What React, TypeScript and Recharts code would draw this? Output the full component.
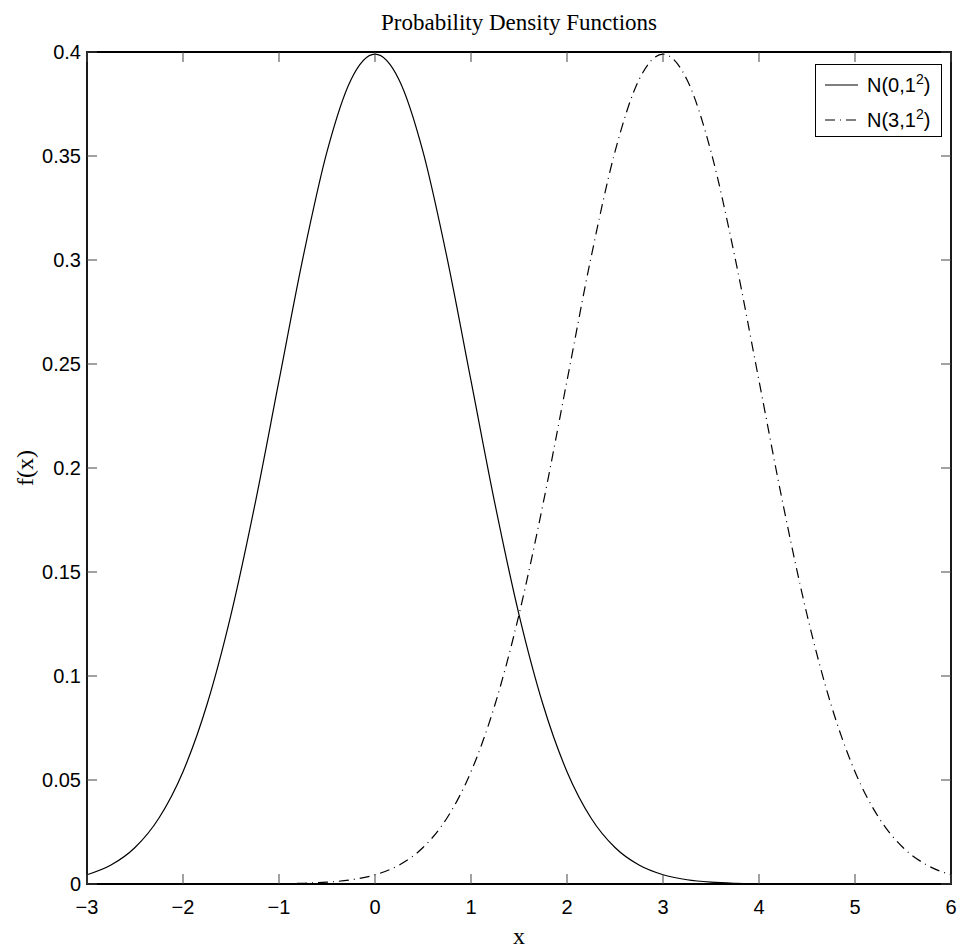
import React from 'react';
import { LineChart, Line, XAxis, YAxis, ReferenceArea } from 'recharts';

// x grid and density values
const xValues = [
  -3, -2.75, -2.5, -2.25, -2, -1.75, -1.5, -1.25, -1, -0.75, -0.5, -0.25,
  0, 0.25, 0.5, 0.75, 1, 1.25, 1.5, 1.75, 2, 2.25, 2.5, 2.75,
  3, 3.25, 3.5, 3.75, 4, 4.25, 4.5, 4.75, 5, 5.25, 5.5, 5.75, 6,
];

const normal0 = [
  0.00443, 0.00909, 0.01753, 0.03174, 0.05399, 0.08628, 0.12952, 0.18265, 0.24197, 0.30114, 0.35207, 0.38667,
  0.39894, 0.38667, 0.35207, 0.30114, 0.24197, 0.18265, 0.12952, 0.08628, 0.05399, 0.03174, 0.01753, 0.00909,
  0.00443, 0.00203, 0.00087, 0.00035, 0.00013, 0.00005, 0.00002, 0.00001, 0, 0, 0, 0, 0,
];

const normal3 = [
  0, 0, 0, 0, 0, 0.00001, 0.00002, 0.00005, 0.00013, 0.00035, 0.00087, 0.00203,
  0.00443, 0.00909, 0.01753, 0.03174, 0.05399, 0.08628, 0.12952, 0.18265, 0.24197, 0.30114, 0.35207, 0.38667,
  0.39894, 0.38667, 0.35207, 0.30114, 0.24197, 0.18265, 0.12952, 0.08628, 0.05399, 0.03174, 0.01753, 0.00909, 0.00443,
];

const xTicks = [-3, -2, -1, 0, 1, 2, 3, 4, 5, 6];
const yTicks = [0, 0.05, 0.1, 0.15, 0.2, 0.25, 0.3, 0.35, 0.4];

const seriesNames = [
  { base: 'N(0,1', dash: undefined },
  { base: 'N(3,1', dash: '10 5 1 5' },
];

const data = xValues.map((x, i) => ({ x, a: normal0[i], b: normal3[i] }));

const sans = '"Liberation Sans", Arial, Helvetica, sans-serif';
const serif = '"Liberation Serif", "Times New Roman", serif';

// plot box (px)
const PLOT_TOP = 52;
const PLOT_BOTTOM = 884;
const PLOT_LEFT = 87;
const PLOT_RIGHT = 951;
const TICK_LEN = 10;
const TICK_COLOR = '#444';

const fmtX = (v: number) => (v < 0 ? '\u2212' + Math.abs(v) : String(v));

// bottom tick: label plus inward marks on bottom and top edges
const XTick = ({ x, payload }: any) => {
  const v = payload.value;
  return (
    <g>
      <line x1={x} y1={PLOT_BOTTOM} x2={x} y2={PLOT_BOTTOM - TICK_LEN} stroke={TICK_COLOR} />
      <line x1={x} y1={PLOT_TOP} x2={x} y2={PLOT_TOP + TICK_LEN} stroke={TICK_COLOR} />
      <text x={x} y={914} textAnchor="middle" fontFamily={sans} fontSize={20} fill="#000">
        {fmtX(v)}
      </text>
    </g>
  );
};

// left tick: label plus inward marks on left and right edges
const YTick = ({ y, payload }: any) => {
  const v = payload.value;
  return (
    <g>
      <line x1={PLOT_LEFT} y1={y} x2={PLOT_LEFT + TICK_LEN} y2={y} stroke={TICK_COLOR} />
      <line x1={PLOT_RIGHT} y1={y} x2={PLOT_RIGHT - TICK_LEN} y2={y} stroke={TICK_COLOR} />
      <text x={PLOT_LEFT - 6} y={y} textAnchor="end" dominantBaseline="central" fontFamily={sans} fontSize={20} fill="#000">
        {String(v)}
      </text>
    </g>
  );
};

const App = () => {
  return (
    <div style={{ position: 'absolute', left: 0, top: 0, width: 958, height: 949, background: '#fff' }}>
      <div
        style={{
          position: 'absolute',
          left: 0,
          width: 1038,
          top: 9,
          textAlign: 'center',
          fontFamily: serif,
          fontSize: 23,
          lineHeight: '28px',
        }}
      >
        Probability Density Functions
      </div>
      <LineChart width={958} height={949} data={data} margin={{ top: 52, right: 7, bottom: 30, left: 27 }}>
        <XAxis
          dataKey="x"
          type="number"
          domain={[-3, 6]}
          ticks={xTicks}
          allowDataOverflow
          height={35}
          tickSize={0}
          tickMargin={0}
          tick={<XTick />}
          axisLine={false}
          tickLine={false}
          label={{
            content: () => (
              <text x={519} y={944} textAnchor="middle" fontFamily={serif} fontSize={24} fill="#000">
                x
              </text>
            ),
          }}
        />
        <YAxis
          type="number"
          domain={[0, 0.4]}
          ticks={yTicks}
          width={60}
          tickSize={0}
          tickMargin={0}
          tick={<YTick />}
          axisLine={false}
          tickLine={false}
          label={{
            content: () => (
              <text
                x={25}
                y={468}
                transform="rotate(-90 25 468)"
                textAnchor="middle"
                dominantBaseline="central"
                fontFamily={serif}
                fontSize={24}
                fill="#000"
              >
                f(x)
              </text>
            ),
          }}
        />
        <ReferenceArea x1={-3} x2={6} y1={0} y2={0.4} fill="none" stroke="#000" strokeWidth={1.8} ifOverflow="visible" />
        <Line type="monotone" dataKey="a" stroke="#000" strokeWidth={1.2} dot={false} isAnimationActive={false} />
        <Line
          type="monotone"
          dataKey="b"
          stroke="#000"
          strokeWidth={1.2}
          strokeDasharray="10 5 1 5"
          dot={false}
          isAnimationActive={false}
        />
      </LineChart>
      <div
        style={{
          position: 'absolute',
          left: 815,
          top: 64,
          width: 127,
          height: 73,
          boxSizing: 'border-box',
          border: '1.5px solid #000',
          background: '#fff',
          fontFamily: sans,
          fontSize: 20,
        }}
      >
        {seriesNames.map((s, i) => (
          <div key={s.base} style={{ position: 'absolute', left: 0, top: i === 0 ? 6 : 41, height: 26, width: 125 }}>
            <svg width={34} height={26} style={{ position: 'absolute', left: 9, top: 0 }}>
              <line x1={0} y1={14} x2={33} y2={14} stroke="#000" strokeWidth={1.2} strokeDasharray={s.dash} />
            </svg>
            <span style={{ position: 'absolute', left: 51, top: 2, lineHeight: '24px', whiteSpace: 'nowrap' }}>
              {s.base}
              <sup style={{ fontSize: 14, lineHeight: 0, verticalAlign: 'super' }}>2</sup>)
            </span>
          </div>
        ))}
      </div>
    </div>
  );
};

export default App;
